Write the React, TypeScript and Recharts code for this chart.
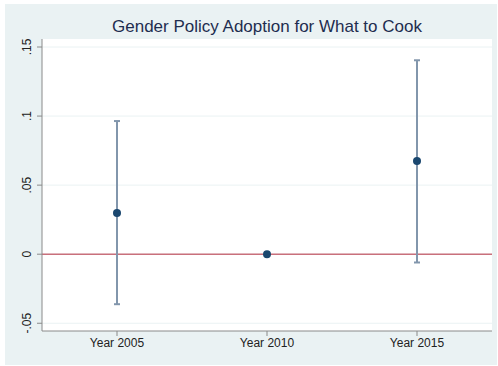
import React from 'react'
import {
  ComposedChart,
  Scatter,
  ErrorBar,
  XAxis,
  YAxis,
  CartesianGrid,
  ReferenceLine,
} from 'recharts'

const years = ['Year 2005', 'Year 2010', 'Year 2015']
const estimates = [0.0299, 0, 0.0674]
const lowerCI = [-0.0362, 0, -0.006]
const upperCI = [0.0964, 0, 0.1404]
const yTicks = [-0.05, 0, 0.05, 0.1, 0.15]

const chartData = years.map((year, i) => ({
  x: i + 1,
  year,
  est: estimates[i],
  ci: [estimates[i] - lowerCI[i], upperCI[i] - estimates[i]],
}))

// Stata-style labels: drop the leading zero (.05, .1, ...)
const fmt = (v: number) => {
  if (v === 0) return '0'
  const s = String(Math.round(v * 100) / 100)
  return s.replace('0.', '.')
}

const YTick = (props: any) => {
  const { x, y, payload } = props
  const tx = x - 4
  return (
    <text
      x={tx}
      y={y}
      transform={`rotate(-90, ${tx}, ${y})`}
      textAnchor="middle"
      fontSize={12}
      fill="#222"
      fontFamily="Liberation Sans, Arial, sans-serif"
    >
      {fmt(payload.value)}
    </text>
  )
}

const Dot = (props: any) => (
  <circle cx={props.cx} cy={props.cy} r={4} fill="#1A476F" />
)

export default function App() {
  return (
    <div
      style={{
        position: 'absolute',
        left: 0,
        top: 0,
        width: 498,
        height: 366,
        background: '#fff',
        fontFamily: 'Liberation Sans, Arial, sans-serif',
      }}
    >
      <div
        style={{
          position: 'absolute',
          left: 5,
          top: 4,
          width: 492,
          height: 361,
          background: '#EAF2F3',
        }}
      />
      <div
        style={{
          position: 'absolute',
          left: 42,
          width: 450,
          top: 17,
          textAlign: 'center',
          fontSize: 17,
          color: '#1E2D4F',
        }}
      >
        Gender Policy Adoption for What to Cook
      </div>
      <div style={{ position: 'absolute', left: 0, top: 0 }}>
        <ComposedChart
          width={498}
          height={366}
          data={chartData}
          margin={{ top: 39, right: 6, bottom: 0, left: 0 }}
        >
          <CartesianGrid
            vertical={false}
            stroke="#EAF2F3"
            fill="#ffffff"
            horizontalValues={yTicks}
          />
          <XAxis
            type="number"
            dataKey="x"
            domain={[0.5, 3.5]}
            ticks={[1, 2, 3]}
            tickFormatter={(v: number) => years[v - 1]}
            height={35}
            stroke="#8A8A8A"
            tickSize={5}
            tick={{ fontSize: 12, fill: '#222' }}
            interval={0}
          />
          <YAxis
            type="number"
            domain={[-0.0556, 0.1558]}
            ticks={yTicks}
            width={42}
            stroke="#8A8A8A"
            tickSize={5}
            tick={<YTick />}
            allowDataOverflow
          />
          <ReferenceLine y={0} stroke="#C9707C" strokeWidth={1.5} />
          <Scatter dataKey="est" shape={<Dot />} isAnimationActive={false}>
            <ErrorBar
              dataKey="ci"
              direction="y"
              width={3}
              stroke="#8296AC"
              strokeWidth={2}
            />
          </Scatter>
        </ComposedChart>
      </div>
    </div>
  )
}
